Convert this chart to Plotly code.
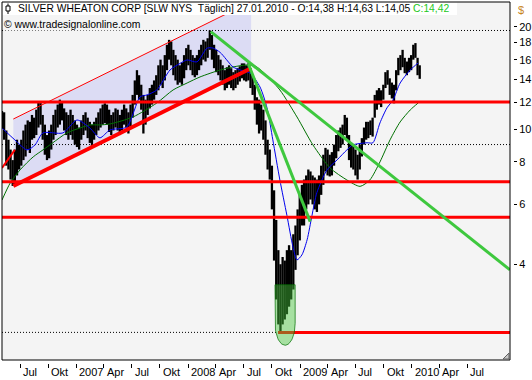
import numpy as np
import pandas as pd
import plotly.graph_objects as go

# ---------------- data ----------------
week_start = "2006-05-01"   # first weekly bar (Monday)
week_high = [11.3, 11.2, 9.9, 9.3, 8.7, 8.1, 8.7, 9.3, 9.0, 9.3,
             9.9, 10.3, 10.6, 10.5, 11.0, 10.8, 11.4, 12.0, 12.0, 11.0,
             10.3, 9.6, 9.9, 10.3, 11.0, 11.4, 11.8, 12.2, 12.0, 11.5,
             11.2, 11.0, 11.4, 11.0, 10.6, 10.3, 10.1, 10.6, 11.0, 11.2,
             10.8, 10.5, 10.3, 10.5, 10.8, 11.2, 11.5, 11.8, 11.9, 11.8,
             11.4, 11.0, 11.2, 11.5, 11.4, 11.0, 11.4, 11.8, 11.5, 11.2,
             11.8, 12.6, 13.9, 14.9, 14.4, 13.5, 12.6, 12.2, 12.6, 13.2,
             13.5, 13.9, 14.4, 15.4, 16.0, 15.4, 16.5, 17.7, 18.3, 18.1,
             17.1, 16.5, 16.0, 15.4, 15.7, 16.5, 17.3, 17.7, 17.1, 16.5,
             16.2, 16.5, 17.1, 17.7, 18.3, 18.1, 18.5, 19.5, 18.9, 17.7,
             17.1, 16.5, 16.0, 15.4, 14.9, 15.2, 15.4, 15.1, 14.7, 14.9,
             15.1, 15.3, 15.6, 15.6, 15.4, 15.6, 15.1, 14.4, 13.5, 12.4,
             12.2, 11.8, 11.4, 10.6, 9.3, 8.7, 7.8, 6.6, 5.4, 4.4,
             4.0, 4.2, 4.1, 4.4, 4.55, 4.4, 4.9, 5.2, 5.8, 6.4,
             6.85, 7.1, 7.3, 7.6, 7.5, 7.3, 7.2, 7.1, 7.3, 7.8,
             8.4, 8.8, 8.7, 8.4, 8.55, 9.0, 9.6, 9.9, 10.1, 10.3,
             11.0, 10.8, 9.6, 9.0, 9.0, 8.7, 8.4, 9.0, 9.4, 10.1,
             10.5, 10.5, 10.6, 10.8, 12.6, 13.0, 13.2, 13.0, 13.5, 14.7,
             14.9, 14.1, 13.7, 13.5, 14.9, 16.2, 16.5, 17.1, 16.2, 15.8,
             16.2, 16.5, 17.7, 17.9, 16.2, 15.4]
week_low = [10.0, 9.3, 7.8, 7.6, 7.1, 6.8, 6.85, 7.3, 7.6, 7.8,
            8.1, 8.3, 8.7, 8.5, 9.3, 9.4, 9.6, 10.1, 10.3, 9.3,
            8.4, 8.1, 8.2, 8.7, 9.3, 9.6, 10.1, 10.3, 10.6, 9.9,
            9.6, 9.3, 9.6, 9.3, 9.0, 8.85, 8.7, 9.3, 9.6, 9.9,
            9.4, 9.1, 8.8, 9.3, 9.6, 9.9, 10.1, 10.3, 10.4, 10.3,
            9.8, 9.6, 9.9, 10.1, 9.9, 9.6, 9.9, 10.3, 10.1, 9.7,
            10.1, 10.8, 11.8, 12.6, 12.2, 11.4, 9.7, 10.3, 11.0, 11.5,
            11.8, 12.2, 12.6, 13.0, 13.5, 13.2, 13.9, 14.9, 16.0, 15.4,
            14.4, 13.9, 13.5, 13.7, 13.5, 14.1, 14.9, 15.4, 14.9, 14.4,
            14.2, 14.4, 14.9, 15.4, 16.0, 15.8, 16.2, 17.1, 16.0, 15.1,
            14.7, 14.4, 13.9, 13.5, 13.0, 13.2, 13.5, 13.2, 13.0, 13.2,
            13.5, 13.8, 14.1, 13.9, 13.8, 13.9, 13.2, 12.6, 11.4, 10.3,
            9.7, 9.9, 9.3, 8.4, 7.6, 7.1, 5.8, 4.1, 3.15, 2.66,
            2.52, 2.66, 2.75, 2.85, 3.0, 3.15, 3.37, 3.85, 4.25, 4.7,
            5.2, 5.2, 5.8, 6.0, 6.2, 6.0, 5.8, 5.7, 6.0, 6.4,
            6.85, 7.5, 7.3, 7.25, 7.3, 7.8, 8.2, 8.6, 8.8, 9.0,
            9.6, 9.3, 8.1, 7.7, 7.6, 7.3, 7.1, 7.6, 8.3, 9.0,
            9.3, 9.4, 9.6, 9.5, 10.8, 11.4, 11.8, 11.6, 12.2, 13.2,
            13.5, 12.6, 12.3, 11.9, 13.0, 14.4, 14.9, 15.2, 14.6, 14.4,
            14.7, 14.9, 16.0, 16.2, 14.4, 14.05]

ma_short_dates = ["2006-05-03", "2006-06-14", "2006-07-24", "2006-08-19", "2006-09-14",
                  "2006-11-18", "2007-01-03", "2007-02-14", "2007-03-19", "2007-04-21",
                  "2007-06-15", "2007-07-28", "2007-08-20", "2007-09-21", "2007-11-03",
                  "2007-12-06", "2007-12-29", "2008-01-30", "2008-03-03", "2008-03-23",
                  "2008-04-15", "2008-05-27", "2008-06-19", "2008-07-22", "2008-08-23",
                  "2008-09-15", "2008-10-04", "2008-10-27", "2008-11-19", "2008-12-09",
                  "2008-12-22", "2009-01-07", "2009-01-24", "2009-02-09", "2009-02-25",
                  "2009-03-30", "2009-05-02", "2009-06-03", "2009-06-23", "2009-08-08",
                  "2009-08-27", "2009-09-19", "2009-10-12", "2009-11-01", "2009-11-24",
                  "2009-12-27", "2010-01-22"]
ma_short_vals = [10.07, 9.29, 8.68, 8.98, 9.74,
                 9.74, 10.63, 10.07, 9.42, 9.94,
                 10.14, 12.43, 12.6, 13.03, 14.92,
                 15.6, 15.97, 15.76, 17.3, 17.3,
                 16.8, 15.23, 14.92, 14.6, 13.3,
                 11.54, 9.29, 7.08, 5.57, 4.49,
                 4.12, 4.26, 4.72, 5.57, 6.50,
                 7.58, 8.11, 8.68, 8.98, 9.11,
                 9.11, 10.42, 11.54, 12.18, 13.66,
                 14.92, 15.65]

ma_long_dates = ["2006-05-03", "2006-05-30", "2006-07-01", "2006-08-13", "2006-09-14",
                 "2006-10-16", "2006-12-01", "2007-01-13", "2007-02-14", "2007-03-19",
                 "2007-04-21", "2007-07-05", "2007-09-21", "2007-11-13", "2007-12-29",
                 "2008-02-09", "2008-04-15", "2008-05-27", "2008-07-11", "2008-08-07",
                 "2008-09-02", "2008-10-27", "2008-12-22", "2009-02-12", "2009-04-09",
                 "2009-06-03", "2009-07-16", "2009-08-17", "2009-09-19", "2009-10-22",
                 "2009-11-24", "2009-12-27", "2010-01-22"]
ma_long_vals = [6.18, 6.94, 7.58, 8.28, 8.68,
                9.11, 9.74, 10.07, 10.28, 10.28,
                10.35, 10.85, 11.93, 13.03, 13.66,
                14.23, 14.92, 15.23, 15.44, 15.33,
                14.72, 13.03, 10.85, 8.98, 7.68,
                7.08, 6.78, 7.08, 8.0, 9.29,
                10.49, 11.38, 11.93]

support_levels = [12.0, 7.0, 5.5]          # full-width red lines
crash_low = 2.52
crash_low_date = "2008-10-21"
dotted_levels = [19.5, 9.0]

channel_dates = ["2006-06-09", "2008-07-25"]
channel_lower = [6.8, 15.1]
channel_upper = [10.7, 23.7]
short_red_dates = ["2006-05-03", "2006-06-14"]
short_red_vals = [7.68, 8.68]

down_long_dates = ["2008-03-15", "2010-11-18"]
down_long_vals = [19.34, 3.85]
down_steep_dates = ["2008-07-16", "2009-02-03"]
down_steep_vals = [15.54, 5.34]

zone_dates = ["2008-10-11", "2008-12-16"]
zone_top, zone_side, zone_tip = 3.48, 2.68, 2.31

x_range = ["2006-05-03", "2010-11-18"]
y_range = [2.09, 23.65]
x_tick_dates = ["2006-07-01", "2006-10-01", "2007-01-01", "2007-04-01", "2007-07-01",
                "2007-10-01", "2008-01-01", "2008-04-01", "2008-07-01", "2008-10-01",
                "2009-01-01", "2009-04-01", "2009-07-01", "2009-10-01", "2010-01-01",
                "2010-04-01", "2010-07-01"]
x_tick_text = ["Jul", "Okt", "2007", "Apr", "Jul", "Okt", "2008", "Apr", "Jul", "Okt",
               "2009", "Apr", "Jul", "Okt", "2010", "Apr", "Jul"]
y_ticks = [4, 6, 8, 10, 12, 14, 16, 18, 20]

# ---------------- figure ----------------
W, H = 532, 380
ML, MR, MT, MB = 2, 19, 2, 17
PW, PH = W - ML - MR, H - MT - MB


def px(xp):
    return (xp - ML) / PW


def py(yp):
    return (H - MB - yp) / PH


FONT = "Liberation Sans"
fig = go.Figure()

x0d, x1d = pd.Timestamp(x_range[0]), pd.Timestamp(x_range[1])

# channel shading
fig.add_trace(go.Scatter(
    x=[channel_dates[0], channel_dates[1], channel_dates[1], channel_dates[0]],
    y=[channel_lower[0], channel_lower[1], channel_upper[1], channel_upper[0]],
    mode="lines", fill="toself", fillcolor="#dcdcf4", line=dict(width=0),
    hoverinfo="skip"))

# dotted levels
for lv in dotted_levels:
    fig.add_trace(go.Scatter(x=[x0d, x1d], y=[lv, lv], mode="lines",
                             line=dict(color="black", width=1, dash="1px,2px")))
fig.add_trace(go.Scatter(x=[x0d, crash_low_date], y=[crash_low, crash_low], mode="lines",
                         line=dict(color="black", width=1, dash="1px,2px")))

# price bars (weekly high-low)
wd = pd.date_range(week_start, periods=len(week_high), freq="7D") + pd.Timedelta(days=2)
bx, by = [], []
for d, h, l in zip(wd, week_high, week_low):
    bx += [d, d, None]
    by += [l, h, None]
fig.add_trace(go.Scatter(x=bx, y=by, mode="lines", line=dict(color="black", width=2.3),
                         connectgaps=False))

# moving averages
fig.add_trace(go.Scatter(x=ma_long_dates, y=ma_long_vals, mode="lines",
                         line=dict(color="#007000", width=1, shape="spline", smoothing=0.7)))
fig.add_trace(go.Scatter(x=ma_short_dates, y=ma_short_vals, mode="lines",
                         line=dict(color="#0000ee", width=1, shape="spline", smoothing=0.7)))

# red horizontal support lines
for lv in support_levels:
    fig.add_trace(go.Scatter(x=[x0d, x1d], y=[lv, lv], mode="lines",
                             line=dict(color="#ff0000", width=3)))
fig.add_trace(go.Scatter(x=[crash_low_date, x1d], y=[crash_low, crash_low], mode="lines",
                         line=dict(color="#ff0000", width=3)))

# channel lines
fig.add_trace(go.Scatter(x=channel_dates, y=channel_lower, mode="lines",
                         line=dict(color="#ff0000", width=4)))
fig.add_trace(go.Scatter(x=channel_dates, y=channel_upper, mode="lines",
                         line=dict(color="#ff0000", width=1)))
fig.add_trace(go.Scatter(x=short_red_dates, y=short_red_vals, mode="lines",
                         line=dict(color="#ff0000", width=2)))

# green down trend lines
fig.add_trace(go.Scatter(x=down_long_dates, y=down_long_vals, mode="lines",
                         line=dict(color="#3ec83e", width=3)))
fig.add_trace(go.Scatter(x=down_steep_dates, y=down_steep_vals, mode="lines",
                         line=dict(color="#3ec83e", width=3)))

# highlighted capitulation zone (U shape)
zl, zr = pd.Timestamp(zone_dates[0]), pd.Timestamp(zone_dates[1])
zmid, zhalf = zl + (zr - zl) / 2, (zr - zl) / 2
t = np.linspace(np.pi, 0, 41)
ls, lt = np.log10(zone_side), np.log10(zone_tip)
ux = [zl, zl] + [zmid + zhalf * float(np.cos(a)) for a in t] + [zr, zl]
uy = [zone_top, zone_side] + [10 ** (ls - (ls - lt) * np.sin(a)) for a in t] + [zone_top, zone_top]
fig.add_trace(go.Scatter(x=ux, y=uy, mode="lines", fill="toself",
                         fillcolor="rgba(70,200,60,0.45)",
                         line=dict(color="rgba(0,110,0,0.7)", width=1)))

shapes = [
    # plot background
    dict(type="rect", xref="x domain", yref="y domain", x0=0, x1=1, y0=0, y1=1,
         fillcolor="#f4f4f4", line=dict(width=0), layer="below"),
    # header box
    dict(type="rect", xref="paper", yref="paper", x0=px(2.5), x1=px(457), y0=py(15), y1=py(2.5),
         fillcolor="white", line=dict(width=0), layer="above"),
    # icon
    dict(type="line", xref="paper", yref="paper", x0=px(8), x1=px(8), y0=py(3.5), y1=py(14),
         line=dict(color="black", width=1), layer="above"),
    dict(type="rect", xref="paper", yref="paper", x0=px(6), x1=px(10), y0=py(11), y1=py(6),
         fillcolor="white", line=dict(color="black", width=1), layer="above"),
    # frame
    dict(type="rect", xref="x domain", yref="y domain", x0=0, x1=1, y0=0, y1=1,
         line=dict(color="black", width=1), layer="above"),
    # resize grip
    dict(type="path", xref="paper", yref="paper",
         path=f"M {px(503)} {py(359)} L {px(509)} {py(359)} L {px(509)} {py(353)} Z",
         fillcolor="#c8c8c8", line=dict(color="#606060", width=1), layer="above"),
]

annotations = [
    dict(xref="paper", yref="paper", x=px(16), y=py(8.5), xanchor="left", yanchor="middle",
         showarrow=False, font=dict(family=FONT, size=10.3, color="black"),
         text="SILVER WHEATON CORP [SLW NYS&nbsp;&nbsp;Täglich] 27.01.2010 - O:14,38 H:14,63 L:14,05 "
              "<span style='color:#22c822'>C:14,42</span>"),
    dict(xref="paper", yref="paper", x=px(3), y=py(25), xanchor="left", yanchor="middle",
         showarrow=False, font=dict(family=FONT, size=10.4, color="black"),
         bgcolor="#f4f4f4", borderpad=0,
         text="© www.tradesignalonline.com"),
    dict(xref="paper", yref="paper", x=px(516), y=py(10), xanchor="left", yanchor="middle",
         showarrow=False, font=dict(family=FONT, size=11, color="#c8841e"), text="$"),
]
# x tick labels: left-aligned just right of each tick, as in the reference
for d, txt in zip(x_tick_dates, x_tick_text):
    annotations.append(dict(xref="x", yref="paper", x=d, y=py(372), xanchor="left",
                            yanchor="middle", xshift=1, showarrow=False,
                            font=dict(family=FONT, size=11, color="black"), text=txt))

fig.update_layout(
    width=W, height=H, autosize=False,
    margin=dict(l=ML, r=MR, t=MT, b=MB, pad=0, autoexpand=False),
    paper_bgcolor="white", plot_bgcolor="white",
    showlegend=False, hovermode=False,
    font=dict(family=FONT, size=11, color="black"),
    shapes=shapes, annotations=annotations,
    xaxis=dict(type="date", domain=[0, (510 - ML) / PW], range=x_range,
               anchor="free", position=0, automargin=False,
               showgrid=False, zeroline=False, showline=False,
               ticks="outside", ticklen=4, tickwidth=1, tickcolor="black",
               tickvals=x_tick_dates, showticklabels=False),
    yaxis=dict(type="log", domain=[3 / PH, 1], automargin=False,
               range=[np.log10(y_range[0]), np.log10(y_range[1])],
               side="right", anchor="free", position=1,
               showgrid=False, zeroline=False, showline=False,
               ticks="outside", ticklen=3, tickwidth=1, tickcolor="black",
               tickvals=y_ticks, ticktext=[str(v) for v in y_ticks],
               tickfont=dict(family=FONT, size=11, color="black")),
)

fig.write_html("out.html", config={"displayModeBar": False, "staticPlot": True},
               post_script="document.body.style.margin='0';document.body.style.padding='0';")
